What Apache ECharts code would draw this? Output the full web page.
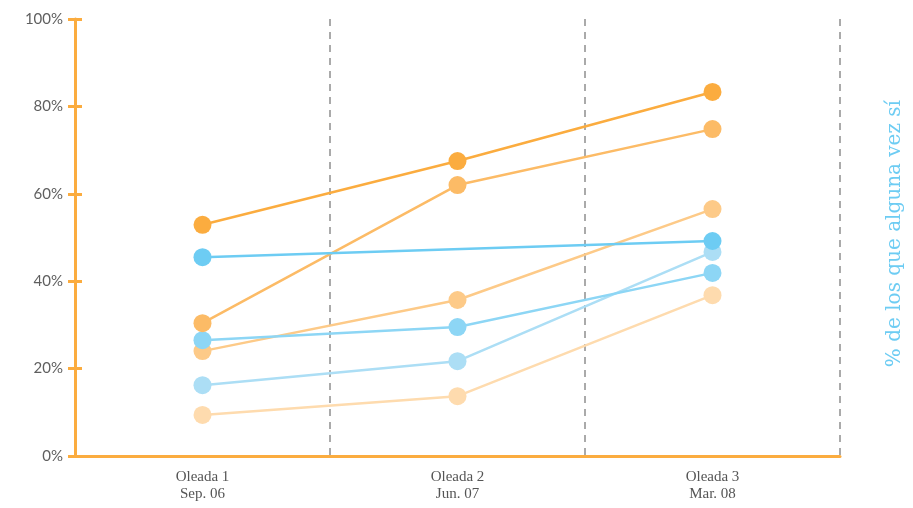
<!DOCTYPE html>
<html>
<head>
<meta charset="utf-8">
<script src="https://cdn.jsdelivr.net/npm/echarts@6/dist/echarts.min.js"></script>
<style>
  html, body { margin: 0; padding: 0; background: #fff; }
  #chart { width: 913px; height: 508px; }
</style>
</head>
<body>
<div id="chart"></div>
<script>
// categorías (oleadas)
const waves = ['Oleada 1\nSep. 06', 'Oleada 2\nJun. 07', 'Oleada 3\nMar. 08'];
const yTicks = [0, 20, 40, 60, 80, 100];

// series naranjas
const orange1 = [52.9, 67.5, 83.3];
const orange2 = [30.4, 62.0, 74.8];
const orange3 = [24.0, 35.7, 56.5];
const orange4 = [9.4, 13.7, 36.8];
// series azules
const blue1 = [45.5, null, 49.2];
const blue2 = [26.5, 29.5, 41.9];
const blue3 = [16.2, 21.7, 46.7];

const axisOrange = '#FBAC3F';

function makeSeries(data, color) {
    return {
        type: 'line',
        data: data,
        connectNulls: true,
        symbol: 'circle',
        symbolSize: 18,
        lineStyle: { color: color, width: 2.5 },
        itemStyle: { color: color },
        emphasis: { disabled: true }
    };
}

var chart = echarts.init(document.getElementById('chart'));
var option = {
    animation: false,
    grid: { left: 75, right: 73, top: 19, bottom: 52 },
    xAxis: {
        type: 'category',
        data: waves,
        boundaryGap: true,
        axisLine: { lineStyle: { color: axisOrange, width: 3 } },
        axisTick: { inside: true, length: 6, lineStyle: { color: axisOrange, width: 2 } },
        axisLabel: {
            color: '#555',
            fontFamily: 'Liberation Serif',
            fontSize: 15,
            lineHeight: 17,
            margin: 13
        },
        splitLine: { show: true, lineStyle: { color: '#aaa', type: [7, 6], width: 2 } }
    },
    yAxis: [{
        type: 'value',
        min: 0,
        max: 100,
        interval: 20,
        axisLine: { show: true, lineStyle: { color: axisOrange, width: 3 } },
        axisTick: { show: true, length: 7, lineStyle: { color: axisOrange, width: 3 } },
        axisLabel: {
            color: '#5f5f5f',
            fontFamily: 'Lato',
            fontSize: 15,
            margin: 12,
            formatter: v => yTicks.includes(v) ? v + '%' : ''
        },
        splitLine: { show: false }
    }, {
        type: 'value',
        position: 'left',
        min: 0,
        max: 100,
        interval: 20,
        axisLine: { show: false },
        axisTick: { show: true, inside: true, length: 7, lineStyle: { color: axisOrange, width: 3 } },
        axisLabel: { show: false },
        splitLine: { show: false }
    }],
    graphic: [{
        type: 'text',
        left: 885,
        top: 100,
        rotation: Math.PI / 2,
        style: {
            text: '% de los que alguna vez sí',
            fill: '#6DCCF3',
            font: '20px "DejaVu Serif"'
        }
    }],
    series: [
        makeSeries(orange4, '#FEDBAE'),
        makeSeries(orange3, '#FDCA88'),
        makeSeries(blue3, '#ACDEF5'),
        makeSeries(blue2, '#8DD6F5'),
        makeSeries(orange2, '#FCBB66'),
        makeSeries(blue1, '#6DCCF3'),
        makeSeries(orange1, '#FBAC3F')
    ]
};
chart.setOption(option);
</script>
</body>
</html>
